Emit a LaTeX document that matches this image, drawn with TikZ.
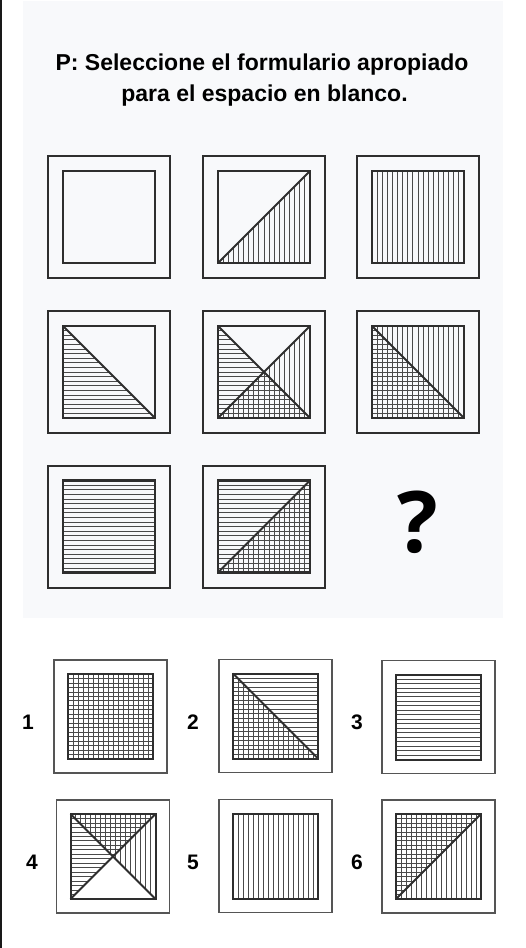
\documentclass[tikz,border=0pt]{standalone}
\usepackage{fontspec}
\setmainfont{Liberation Sans}
\newfontfamily\qfont{Open Sans}
\definecolor{panel}{HTML}{F8F9FB}
\definecolor{frame}{HTML}{2E2E2E}
\definecolor{hatchc}{HTML}{4A4A4A}
\definecolor{optframe}{HTML}{555555}
\tikzset{
  outerM/.style={draw=frame, line width=2pt},
  outerO/.style={draw=optframe, line width=1.3pt},
  innerbox/.style={draw=frame, line width=2.4pt},
  innerO/.style={draw=frame, line width=2pt},
  hatch/.style={draw=hatchc, line width=0.8pt},
  diag/.style={draw=frame, line width=1.8pt},
  title/.style={font=\bfseries\fontsize{23}{23}\selectfont, anchor=base},
  numlab/.style={font=\bfseries\fontsize{21}{21}\selectfont},
}
\newcommand\vlines{\foreach \k in {1,...,\nvm}{\draw[hatch] ({-\hs+\k*\sv},{-\hs}) -- ({-\hs+\k*\sv},{\hs});}}
\newcommand\hlines{\foreach \k in {1,...,\nhm}{\draw[hatch] ({-\hs},{-\hs+\k*\sh}) -- ({\hs},{-\hs+\k*\sh});}}
\newcommand\vtri[3]{\begin{scope}\clip #1 -- #2 -- #3 -- cycle; \vlines\end{scope}}
\newcommand\htri[3]{\begin{scope}\clip #1 -- #2 -- #3 -- cycle; \hlines\end{scope}}
\newcommand\mainparams{\def\hs{46}\def\sv{5.111}\def\nvm{17}\def\sh{4.6}\def\nhm{19}}
\newcommand\optparams{\def\hs{42.5}\def\sv{5}\def\nvm{16}\def\sh{4.474}\def\nhm{18}}
\begin{document}
\begin{tikzpicture}[x=1pt,y=-1pt]
\useasboundingbox (0,0) rectangle (526,948);
\fill[white] (0,0) rectangle (526,948);
\fill[panel] (23,1) rectangle (503,618);
\fill[black!90] (0,0) rectangle (2,948);
% title
\node[title] (t1) at (262,70.7) {P: Seleccione el formulario apropiado};
\node[title] (t2) at (264.5,101) {para el espacio en blanco.};
% ---------- matrix ----------
\mainparams
% R1C1
\begin{scope}[shift={(109,217)}]
 \draw[outerM] (-61,-61) rectangle (61,61);
 \draw[innerbox] (-\hs,-\hs) rectangle (\hs,\hs);
\end{scope}
% R1C2
\begin{scope}[shift={(264,217)}]
 \draw[outerM] (-61,-61) rectangle (61,61);
 \vtri{(-\hs,\hs)}{(\hs,\hs)}{(\hs,-\hs)}
 \draw[diag] (-\hs,\hs) -- (\hs,-\hs);
 \draw[innerbox] (-\hs,-\hs) rectangle (\hs,\hs);
\end{scope}
% R1C3
\begin{scope}[shift={(418,217)}]
 \draw[outerM] (-61,-61) rectangle (61,61);
 \vlines
 \draw[innerbox] (-\hs,-\hs) rectangle (\hs,\hs);
\end{scope}
% R2C1
\begin{scope}[shift={(109,372)}]
 \draw[outerM] (-61,-61) rectangle (61,61);
 \htri{(-\hs,-\hs)}{(-\hs,\hs)}{(\hs,\hs)}
 \draw[diag] (-\hs,-\hs) -- (\hs,\hs);
 \draw[innerbox] (-\hs,-\hs) rectangle (\hs,\hs);
\end{scope}
% R2C2
\begin{scope}[shift={(264,372)}]
 \draw[outerM] (-61,-61) rectangle (61,61);
 \htri{(-\hs,-\hs)}{(0,0)}{(-\hs,\hs)}
 \vtri{(\hs,-\hs)}{(0,0)}{(\hs,\hs)}
 \htri{(-\hs,\hs)}{(0,0)}{(\hs,\hs)}
 \vtri{(-\hs,\hs)}{(0,0)}{(\hs,\hs)}
 \draw[diag] (-\hs,-\hs) -- (\hs,\hs);
 \draw[diag] (-\hs,\hs) -- (\hs,-\hs);
 \draw[innerbox] (-\hs,-\hs) rectangle (\hs,\hs);
\end{scope}
% R2C3
\begin{scope}[shift={(418,372)}]
 \draw[outerM] (-61,-61) rectangle (61,61);
 \vlines
 \htri{(-\hs,-\hs)}{(-\hs,\hs)}{(\hs,\hs)}
 \draw[diag] (-\hs,-\hs) -- (\hs,\hs);
 \draw[innerbox] (-\hs,-\hs) rectangle (\hs,\hs);
\end{scope}
% R3C1
\begin{scope}[shift={(109,526.5)}]
 \draw[outerM] (-61,-61) rectangle (61,61);
 \hlines
 \draw[innerbox] (-\hs,-\hs) rectangle (\hs,\hs);
\end{scope}
% R3C2
\begin{scope}[shift={(264,526.5)}]
 \draw[outerM] (-61,-61) rectangle (61,61);
 \hlines
 \vtri{(-\hs,\hs)}{(\hs,\hs)}{(\hs,-\hs)}
 \draw[diag] (-\hs,\hs) -- (\hs,-\hs);
 \draw[innerbox] (-\hs,-\hs) rectangle (\hs,\hs);
\end{scope}
\node[font=\qfont\bfseries\fontsize{85}{85}\selectfont, inner sep=0pt] (q) at (418,522) {?};
% ---------- options ----------
\optparams
% 1
\node[numlab] (n1) at (28,722) {1};
\begin{scope}[shift={(110.5,716.5)}]
 \draw[outerO] (-56.5,-56.5) rectangle (56.5,56.5);
 \vlines \hlines
 \draw[innerO] (-\hs,-\hs) rectangle (\hs,\hs);
\end{scope}
% 2
\node[numlab] (n2) at (193,722) {2};
\begin{scope}[shift={(275.5,716)}]
 \draw[outerO] (-56.5,-56.5) rectangle (56.5,56.5);
 \hlines
 \vtri{(-\hs,-\hs)}{(-\hs,\hs)}{(\hs,\hs)}
 \draw[diag] (-\hs,-\hs) -- (\hs,\hs);
 \draw[innerO] (-\hs,-\hs) rectangle (\hs,\hs);
\end{scope}
% 3
\node[numlab] (n3) at (357,722) {3};
\begin{scope}[shift={(438.5,717)}]
 \draw[outerO] (-56.5,-56.5) rectangle (56.5,56.5);
 \hlines
 \draw[innerO] (-\hs,-\hs) rectangle (\hs,\hs);
\end{scope}
% 4
\node[numlab] (n4) at (32,862) {4};
\begin{scope}[shift={(113,856.5)}]
 \draw[outerO] (-56.5,-56.5) rectangle (56.5,56.5);
 \htri{(-\hs,-\hs)}{(0,0)}{(-\hs,\hs)}
 \vtri{(\hs,-\hs)}{(0,0)}{(\hs,\hs)}
 \htri{(-\hs,-\hs)}{(0,0)}{(\hs,-\hs)}
 \vtri{(-\hs,-\hs)}{(0,0)}{(\hs,-\hs)}
 \draw[diag] (-\hs,-\hs) -- (\hs,\hs);
 \draw[diag] (-\hs,\hs) -- (\hs,-\hs);
 \draw[innerO] (-\hs,-\hs) rectangle (\hs,\hs);
\end{scope}
% 5
\node[numlab] (n5) at (193,862) {5};
\begin{scope}[shift={(275.5,856)}]
 \draw[outerO] (-56.5,-56.5) rectangle (56.5,56.5);
 \vlines
 \draw[innerO] (-\hs,-\hs) rectangle (\hs,\hs);
\end{scope}
% 6
\node[numlab] (n6) at (357,862) {6};
\begin{scope}[shift={(438.5,856.5)}]
 \draw[outerO] (-56.5,-56.5) rectangle (56.5,56.5);
 \vlines
 \htri{(-\hs,\hs)}{(-\hs,-\hs)}{(\hs,-\hs)}
 \draw[diag] (-\hs,\hs) -- (\hs,-\hs);
 \draw[innerO] (-\hs,-\hs) rectangle (\hs,\hs);
\end{scope}
\end{tikzpicture}
\end{document}
